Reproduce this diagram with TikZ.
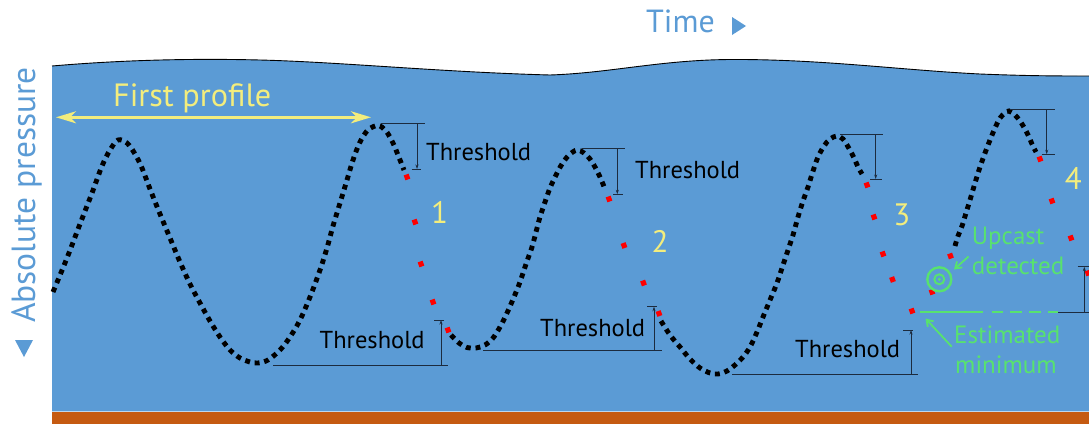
\documentclass[tikz,border=0pt]{standalone}
\usepackage{fontspec}
\setmainfont{PT Sans}
\usetikzlibrary{arrows.meta}
\definecolor{sea}{RGB}{91,155,213}
\definecolor{seabed}{RGB}{197,90,17}
\definecolor{ylw}{RGB}{243,237,125}
\definecolor{grn}{RGB}{88,226,110}
\definecolor{thrcol}{RGB}{28,43,62}
\definecolor{sqred}{RGB}{255,0,0}
\begin{document}
\begin{tikzpicture}[x=1pt,y=-1pt,
  dotted path/.style={line width=4.9pt, dash pattern=on 4.9pt off 4.8pt, black},
  thr/.style={draw=thrcol, line width=0.9pt},
  thrarrow/.style={thr, -{Stealth[length=4.5pt,width=3pt]}},
  thrtext/.style={font=\fontsize{24.5}{28}\selectfont, text=black, inner sep=0pt},
  numtext/.style={font=\fontsize{31}{36}\selectfont, text=ylw, inner sep=0pt},
  grntext/.style={font=\fontsize{25}{28}\selectfont, text=grn, inner sep=0pt},
  grnarrow/.style={draw=grn, line width=1.8pt, -{Straight Barb[length=6pt,width=8pt]}},
  bluetext/.style={text=sea, inner sep=0pt}
]
\useasboundingbox (0,0) rectangle (1089,424);
% sea
\fill[sea] (52,66) .. controls (110,61) and (180,58) .. (260,60) .. controls (340,62) and (440,72) .. (550,75)
  .. controls (610,73) and (660,60) .. (730,59.5) .. controls (820,59) and (900,70) .. (980,74) .. controls (1030,76) and (1060,76) .. (1089,76)
  -- (1089,411) -- (52,411) -- cycle;
\draw[black, line width=0.9pt] (52,66) .. controls (110,61) and (180,58) .. (260,60) .. controls (340,62) and (440,72) .. (550,75)
  .. controls (610,73) and (660,60) .. (730,59.5) .. controls (820,59) and (900,70) .. (980,74) .. controls (1030,76) and (1060,76) .. (1089,76);
% seabed
\fill[seabed] (52,411) rectangle (1089,424);
\draw[sea!40!white, line width=0.8pt] (52,411) -- (1089,411);

% axis labels
\node[bluetext, font=\fontsize{33.5}{38}\selectfont, rotate=90, anchor=base west] (pressure) at (35,323) {Absolute pressure};
\fill[sea] (15,340) -- (33,340) -- (24,357) -- cycle;
\node[bluetext, font=\fontsize{32}{36}\selectfont, anchor=base west] (time) at (646,32.7) {Time};
\fill[sea] (732,17) -- (746,26) -- (732,35) -- cycle;

% first profile
\coordinate (fpL) at (56,117.3);
\coordinate (fpR) at (371,117.3);
\draw[draw=ylw, line width=2.7pt, {Stealth[length=20pt,width=12pt,inset=6pt]}-{Stealth[length=20pt,width=12pt,inset=6pt]}] (fpL) -- (fpR);
\node[font=\fontsize{32.2}{36}\selectfont, text=ylw, inner sep=0pt, anchor=base west] (fp) at (113,106) {First profile};

% black dotted profiles
\draw[dotted path] plot[smooth, tension=0.55] coordinates {(53,292) (67,258) (80,224) (92,193) (102,166) (110,150) (118,140) (127,143) (135,154) (142,168) (150,189) (160,214) (170,238) (180,262) (190,284) (200,303) (210,321) (220,337) (230,350) (240,358) (250,362) (258,363) (268,360) (280,350) (290,337) (300,320) (310,297) (320,270) (327,248) (333,226) (340,203) (347,180) (353,160) (360,142) (368,130) (378,125.5) (386,131) (393,143) (398,155) (404,170)};
\draw[dotted path] plot[smooth, tension=0.55] coordinates {(451,335) (459,343) (467,347.5) (476,348) (485,345) (493,338) (500,327) (507,313) (514,297) (520,282) (526,264) (532,247) (536,232) (540,217) (545,202) (550,188) (556,175) (562,164) (569,155) (577,150) (584,153) (590,159) (595,167) (600,177) (605,189)};
\draw[dotted path] plot[smooth, tension=0.55] coordinates {(661,321) (670,335) (680,347) (690,359) (700,368) (710,373) (718,374) (727,371) (735,365) (743,357) (750,347) (757,332) (763,317) (770,300) (777,283) (782,268) (787,253) (793,235) (798,217) (803,201) (808,187) (813,171) (818,157) (824,146) (830,139) (837,136) (843,139) (847,145) (851,152) (855,160) (858,167) (862,174)};
\draw[dotted path] plot[smooth, tension=0.55] coordinates {(955,246) (958,236) (962,226) (966,213) (970,200) (975,183) (980,167) (985,153) (990,140) (995,128) (1000,118) (1005,113) (1009,111) (1015,115) (1020,121) (1025,129) (1029,137) (1032,144) (1036,152)};

% red samples
\foreach \x/\y in {407/177, 415/222, 421/264, 433/302, 448/330,
                   609/199, 624/245.5, 643.5/283, 659/313.5,
                   867/185, 874/217, 883/254, 892.5/279.5, 912/311, 932/292, 950.5/256,
                   1040/159, 1052/201, 1071/238, 1088/273}
  \fill[sqred, rotate around={20:(\x,\y)}] (\x-2.6,\y-2.6) rectangle (\x+2.6,\y+2.6);

% thresholds
\draw[thr] (381,123.3) -- (425,123.3);
\draw[thrarrow] (417,123.3) -- (417,169);
\draw[thr] (411.5,169) -- (420.5,169);
\node[thrtext, anchor=base west] (th1) at (426,160) {Threshold};

\draw[thr] (273,365) -- (448,365);
\draw[thrarrow] (441,365) -- (441,320);
\draw[thr] (434,320) -- (444,320);
\node[thrtext, anchor=base west] (th2) at (319.5,348.3) {Threshold};

\draw[thr] (582,148.3) -- (625,148.3);
\draw[thrarrow] (617.3,148.3) -- (617.3,194.3);
\draw[thr] (613,194.3) -- (623,194.3);
\node[thrtext, anchor=base west] (th3) at (635,178.3) {Threshold};

\draw[thr] (483,350.7) -- (662,350.7);
\draw[thrarrow] (654,350.7) -- (654,306.7);
\draw[thr] (647,306.7) -- (657,306.7);
\node[thrtext, anchor=base west] (th4) at (540,336) {Threshold};

\draw[thr] (840,134.3) -- (883.3,134.3);
\draw[thrarrow] (875.7,134.3) -- (875.7,179);
\draw[thr] (870,179) -- (882,179);

\draw[thr] (732,374.7) -- (918,374.7);
\draw[thrarrow] (911,374.7) -- (911,330);
\draw[thr] (903,330) -- (913,330);
\node[thrtext, anchor=base west] (th5) at (795,357.3) {Threshold};

\draw[thr] (1010,109.3) -- (1055,109.3);
\draw[thrarrow] (1046.7,109.3) -- (1046.7,154.3);
\draw[thr] (1041.7,154.3) -- (1055,154.3);

\draw[thr] (1058,312.3) -- (1089,312.3);
\draw[thrarrow] (1084.3,312.3) -- (1084.3,266.7);
\draw[thr] (1077.7,266.7) -- (1089,266.7);

% numbers
\node[numtext, anchor=base] (n1) at (439.5,223.3) {1};
\node[numtext, anchor=base] (n2) at (660,252.7) {2};
\node[numtext, anchor=base] (n3) at (901.7,225) {3};
\node[numtext, anchor=base] (n4) at (1073.3,189.3) {4};

% green annotations
\draw[grn, line width=1.7pt] (920,312.3) -- (983,312.3);
\draw[grn, line width=1.7pt, dash pattern=on 11.5pt off 7.2pt] (991.7,312.3) -- (1058,312.3);
\draw[grn, line width=2.4pt] (939.3,279.3) circle[radius=12];
\draw[grn, line width=2pt] (939.3,279.3) circle[radius=5];
\fill[grn] (939.3,279.3) circle[radius=1.7];
\node[grntext, anchor=base west] (up1) at (971.7,244) {Upcast};
\node[grntext, anchor=base west] (up2) at (971.7,274) {detected};
\node[grntext, anchor=base west] (em1) at (954,343.5) {Estimated};
\node[grntext, anchor=base west] (em2) at (955,373.5) {minimum};
\coordinate (upT) at (968.5,256.5);
\coordinate (upH) at (954,269.5);
\draw[grnarrow] (upT) -- (upH);
\coordinate (emT) at (951.7,346.7);
\coordinate (emH) at (925.5,318.5);
\draw[grnarrow] (emT) -- (emH);
\end{tikzpicture}
\end{document}
